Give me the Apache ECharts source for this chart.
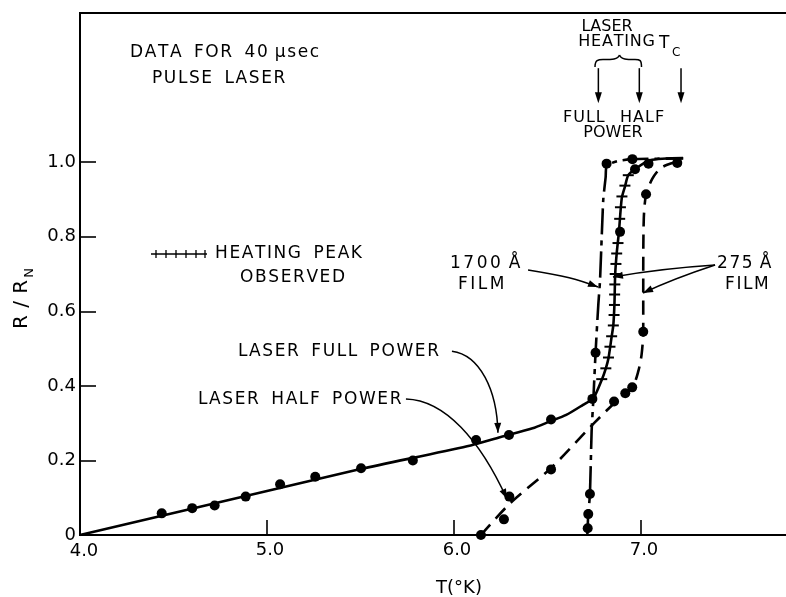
<!DOCTYPE html>
<html>
<head>
<meta charset="utf-8">
<script src="https://cdn.jsdelivr.net/npm/echarts@6/dist/echarts.min.js"></script>
<style>
  html, body { margin: 0; padding: 0; background: #fff; }
  #chart { width: 786px; height: 597px; }
</style>
</head>
<body>
<div id="chart"></div>
<script>
// ---- Data: R/R_N versus temperature T (°K), 40 µsec pulse laser ----

// Axis ticks and their printed labels
const xTicks = [4, 5, 6, 7];
const xTickText = ['4.0', '5.0', '6.0', '7.0'];
const yTicks = [0, 0.2, 0.4, 0.6, 0.8, 1.0];
const yTickText = ['0', '0.2', '0.4', '0.6', '0.8', '1.0'];

// 275 Å film, laser full power: fitted curve and measured points
const fullPowerCurve = [
  [4.0, 0], [5.0, 0.118], [5.5, 0.177], [6.07, 0.238], [6.25, 0.263],
  [6.42, 0.286], [6.51, 0.304], [6.60, 0.322], [6.69, 0.349], [6.745, 0.367],
  [6.79, 0.416], [6.812, 0.447], [6.826, 0.474], [6.843, 0.532], [6.852, 0.563],
  [6.858, 0.62], [6.862, 0.70], [6.870, 0.755], [6.882, 0.813], [6.897, 0.903],
  [6.914, 0.934], [6.932, 0.965], [6.968, 0.981], [7.048, 1.005], [7.225, 1.011]
];
const fullPowerDots = [
  [4.437, 0.058], [4.60, 0.072], [4.72, 0.079], [4.886, 0.103], [5.07, 0.136],
  [5.258, 0.156], [5.503, 0.179], [5.78, 0.20], [6.118, 0.255], [6.294, 0.268],
  [6.519, 0.310], [6.74, 0.365], [6.888, 0.813], [6.968, 0.981], [7.194, 0.998]
];

// Heating peak observed (hatch marks along the full-power curve)
const heatingPeak = [
  [6.932, 0.965], [6.914, 0.937], [6.898, 0.908], [6.890, 0.879], [6.886, 0.848],
  [6.877, 0.783], [6.870, 0.755], [6.866, 0.727], [6.862, 0.700], [6.860, 0.672],
  [6.859, 0.645], [6.858, 0.617], [6.856, 0.590], [6.852, 0.562], [6.843, 0.533],
  [6.834, 0.505], [6.826, 0.476], [6.812, 0.447], [6.79, 0.418]
];

// 275 Å film, laser half power
const halfPowerCurve = [
  [6.144, 0], [6.30, 0.085], [6.52, 0.180], [6.745, 0.298], [6.87, 0.360],
  [6.955, 0.397], [6.985, 0.438], [7.003, 0.483], [7.012, 0.545], [7.012, 0.70],
  [7.015, 0.85], [7.027, 0.914], [7.06, 0.955], [7.10, 0.982], [7.14, 0.993],
  [7.226, 1.006]
];
const halfPowerDots = [
  [6.144, 0], [6.267, 0.042], [6.296, 0.103], [6.519, 0.176], [6.856, 0.358],
  [6.916, 0.38], [6.953, 0.396], [7.012, 0.545], [7.027, 0.914], [7.04, 0.996]
];

// 1700 Å film
const film1700Curve = [
  [6.713, 0], [6.718, 0.056], [6.727, 0.11], [6.736, 0.28], [6.745, 0.362],
  [6.757, 0.489], [6.772, 0.62], [6.781, 0.684], [6.798, 0.898], [6.811, 0.96],
  [6.816, 0.99], [6.876, 1.003], [6.954, 1.008], [7.226, 1.01]
];
const film1700Dots = [
  [6.715, 0.018], [6.718, 0.056], [6.727, 0.110], [6.757, 0.489],
  [6.816, 0.996], [6.954, 1.008]
];

// Arrow anchors, in data units (start, control 1, control 2, tip)
const arrowFullPower = [[5.989, 0.493], [6.139, 0.483], [6.230, 0.389], [6.235, 0.274]];
const arrowHalfPower = [[5.743, 0.365], [5.952, 0.362], [6.139, 0.255], [6.283, 0.097]];
const arrow1700 = [[6.396, 0.711], [6.594, 0.695], [6.66, 0.686], [6.770, 0.665]];
const arrow275a = [[7.396, 0.724], [7.15, 0.716], [7.0, 0.705], [6.850, 0.692]];
const arrow275b = [[7.396, 0.724], [7.25, 0.70], [7.10, 0.67], [7.011, 0.649]];
// Temperatures marked at the top: full-power heating, half-power heating, Tc
const topMarks = [6.772, 6.991, 7.214];

// ---- Chart ----
const FONT = 'DejaVu Sans';
const INK = '#000';
const chart = echarts.init(document.getElementById('chart'), null, { renderer: 'canvas' });

const lineBase = { type: 'line', showSymbol: false, symbol: 'none', silent: true, z: 3 };
const dotBase = { type: 'scatter', symbol: 'circle', symbolSize: 10,
  itemStyle: { color: INK, opacity: 1 }, silent: true, z: 5 };

chart.setOption({
  animation: false,
  backgroundColor: '#fff',
  grid: {
    left: 80, top: 13, width: 748, height: 522, outerBoundsMode: 'none', containLabel: false,
    show: true, borderColor: INK, borderWidth: 2, backgroundColor: 'transparent'
  },
  xAxis: {
    type: 'value', min: 4, max: 8, interval: 1,
    axisLine: { show: true, lineStyle: { color: INK, width: 2 } },
    axisTick: { show: true, inside: true, length: 15, customValues: xTicks.slice(1), lineStyle: { color: INK, width: 1.6 } },
    // the label at the origin is drawn separately below, centred on its value
    axisLabel: {
      customValues: xTicks.slice(1), color: INK, fontFamily: FONT, fontSize: 18, margin: 6, padding: [0, 0, 0, 6],
      formatter: v => (Math.round(v) === xTicks[0] ? '' : (xTickText[xTicks.indexOf(Math.round(v))] || ''))
    },
    splitLine: { show: false },
    name: 'T(°K)', nameLocation: 'middle', nameGap: 44,
    nameTextStyle: { color: INK, fontFamily: FONT, fontSize: 18, padding: [0, 0, 0, 10] }
  },
  yAxis: {
    type: 'value', min: 0, max: 1.4, interval: 0.2,
    axisLine: { show: true, lineStyle: { color: INK, width: 2 } },
    axisTick: { show: true, inside: true, length: 16, customValues: yTicks.slice(1), lineStyle: { color: INK, width: 1.6 } },
    axisLabel: {
      customValues: yTicks, color: INK, fontFamily: FONT, fontSize: 18, margin: 4,
      formatter: v => yTickText[yTicks.findIndex(t => Math.abs(t - v) < 1e-6)] || ''
    },
    splitLine: { show: false }
  },
  series: [
    Object.assign({}, lineBase, { name: 'full power', data: fullPowerCurve, smooth: 0.25,
      lineStyle: { color: INK, width: 2.6 } }),
    Object.assign({}, lineBase, { name: 'half power', data: halfPowerCurve, smooth: 0.25,
      lineStyle: { color: INK, width: 2.6, type: [14, 8] } }),
    Object.assign({}, lineBase, { name: '1700 A film', data: film1700Curve, smooth: 0.2,
      lineStyle: { color: INK, width: 2.6, type: [26, 6, 5, 6] } }),
    { type: 'scatter', name: 'heating peak', data: heatingPeak, symbol: 'rect', symbolSize: [11, 2],
      itemStyle: { color: INK, opacity: 1 }, silent: true, z: 4 },
    Object.assign({}, dotBase, { name: 'full power points', data: fullPowerDots }),
    Object.assign({}, dotBase, { name: 'half power points', data: halfPowerDots }),
    Object.assign({}, dotBase, { name: '1700 A points', data: film1700Dots })
  ]
});

// ---- Annotations ----
const P = d => chart.convertToPixel({ gridIndex: 0 }, d);

// Lettering with a little extra tracking between characters
function label(x, y, str, opts) {
  opts = opts || {};
  const size = opts.size || 17;
  const ls = opts.ls == null ? 1.6 : opts.ls;
  const text = str.split('').map(ch => ch === ' ' ? '{w| }' : '{c|' + ch + '}').join('');
  return {
    type: 'text', x: x, y: y, rotation: opts.rotation || 0, silent: true, z: 10,
    style: {
      text: text, align: opts.align || 'left', verticalAlign: 'middle',
      rich: {
        c: { fontSize: size, fontFamily: FONT, fill: INK, padding: [0, ls, 0, 0] },
        w: { fontSize: size, fontFamily: FONT, fill: INK }
      }
    }
  };
}

function arrowHead(tip, from, len, w) {
  const dx = tip[0] - from[0], dy = tip[1] - from[1];
  const d = Math.hypot(dx, dy) || 1;
  const ux = dx / d, uy = dy / d;
  const bx = tip[0] - ux * len, by = tip[1] - uy * len;
  return {
    type: 'polygon', silent: true, z: 10,
    shape: { points: [[tip[0], tip[1]], [bx - uy * w / 2, by + ux * w / 2], [bx + uy * w / 2, by - ux * w / 2]] },
    style: { fill: INK }
  };
}

function curveArrow(dataPts) {
  const [p0, c1, c2, p3] = dataPts.map(P);
  return [
    { type: 'bezierCurve', silent: true, z: 10,
      shape: { x1: p0[0], y1: p0[1], cpx1: c1[0], cpy1: c1[1], cpx2: c2[0], cpy2: c2[1], x2: p3[0], y2: p3[1] },
      style: { stroke: INK, lineWidth: 1.5, fill: null } },
    arrowHead(p3, c2, 10, 7)
  ];
}

function downArrow(xVal) {
  const a = P([xVal, 1.252]), b = P([xVal, 1.158]);
  return [
    { type: 'line', silent: true, z: 10, shape: { x1: a[0], y1: a[1], x2: b[0], y2: b[1] - 8 },
      style: { stroke: INK, lineWidth: 1.5 } },
    arrowHead(b, a, 11, 7)
  ];
}

const g = [];
// origin label of the temperature axis, centred under x = 4.0
const origin = P([xTicks[0], 0]);
g.push(label(origin[0] + 4, origin[1] + 16, xTickText[0], { size: 18, ls: 0, align: 'center' }));
// headline
g.push(label(130, 53, 'DATA  FOR  40 μsec'));
g.push(label(152, 79, 'PULSE  LASER'));
// top markers
g.push(label(607, 27, 'LASER', { size: 16, ls: 0, align: 'center' }));
g.push(label(617, 42, 'HEATING', { size: 16, ls: 0.8, align: 'center' }));
g.push(label(659, 44, 'T', { size: 17 }));
g.push(label(672, 53, 'C', { size: 12, ls: 0 }));
g.push(label(563, 118, 'FULL', { size: 16, ls: 1 }));
g.push(label(620, 118, 'HALF', { size: 16, ls: 1 }));
g.push(label(613, 133, 'POWER', { size: 16, ls: 0, align: 'center' }));
// brace under HEATING
[
  [595, 67, 595, 60, 598, 59.5, 603, 59.5],
  [603, 59.5, 612, 59.5, 618, 59.5, 619.5, 55],
  [619.5, 55, 621, 59.5, 627, 59.5, 635, 59.5],
  [635, 59.5, 640, 59.5, 641.5, 60, 641.5, 67]
].forEach(s => g.push({ type: 'bezierCurve', silent: true, z: 10,
  shape: { x1: s[0], y1: s[1], cpx1: s[2], cpy1: s[3], cpx2: s[4], cpy2: s[5], x2: s[6], y2: s[7] },
  style: { stroke: INK, lineWidth: 1.5, fill: null } }));
topMarks.forEach(t => g.push.apply(g, downArrow(t)));
// film labels
g.push(label(450, 264, '1700 Å', { ls: 2.5 }));
g.push(label(458, 285, 'FILM', { ls: 2.5 }));
g.push(label(717, 264, '275 Å'));
g.push(label(725, 285, 'FILM'));
// power labels
g.push(label(238, 352, 'LASER  FULL  POWER'));
g.push(label(198, 400, 'LASER  HALF  POWER'));
[arrowFullPower, arrowHalfPower, arrow1700, arrow275a, arrow275b].forEach(a => g.push.apply(g, curveArrow(a)));
// heating-peak key
g.push({ type: 'line', silent: true, z: 10, shape: { x1: 151, y1: 254, x2: 207, y2: 254 }, style: { stroke: INK, lineWidth: 1.5 } });
[156, 166, 176, 186, 196, 205].forEach(x => g.push({ type: 'line', silent: true, z: 10,
  shape: { x1: x, y1: 250, x2: x, y2: 258 }, style: { stroke: INK, lineWidth: 1.3 } }));
g.push(label(215, 254, 'HEATING  PEAK'));
g.push(label(240, 278, 'OBSERVED'));
// y-axis title R/R_N
g.push(label(22, 304, 'R / R', { size: 20, ls: 1, align: 'center', rotation: Math.PI / 2 }));
g.push(label(30, 273, 'N', { size: 13, ls: 0, align: 'center', rotation: Math.PI / 2 }));

chart.setOption({ graphic: g });
</script>
</body>
</html>
